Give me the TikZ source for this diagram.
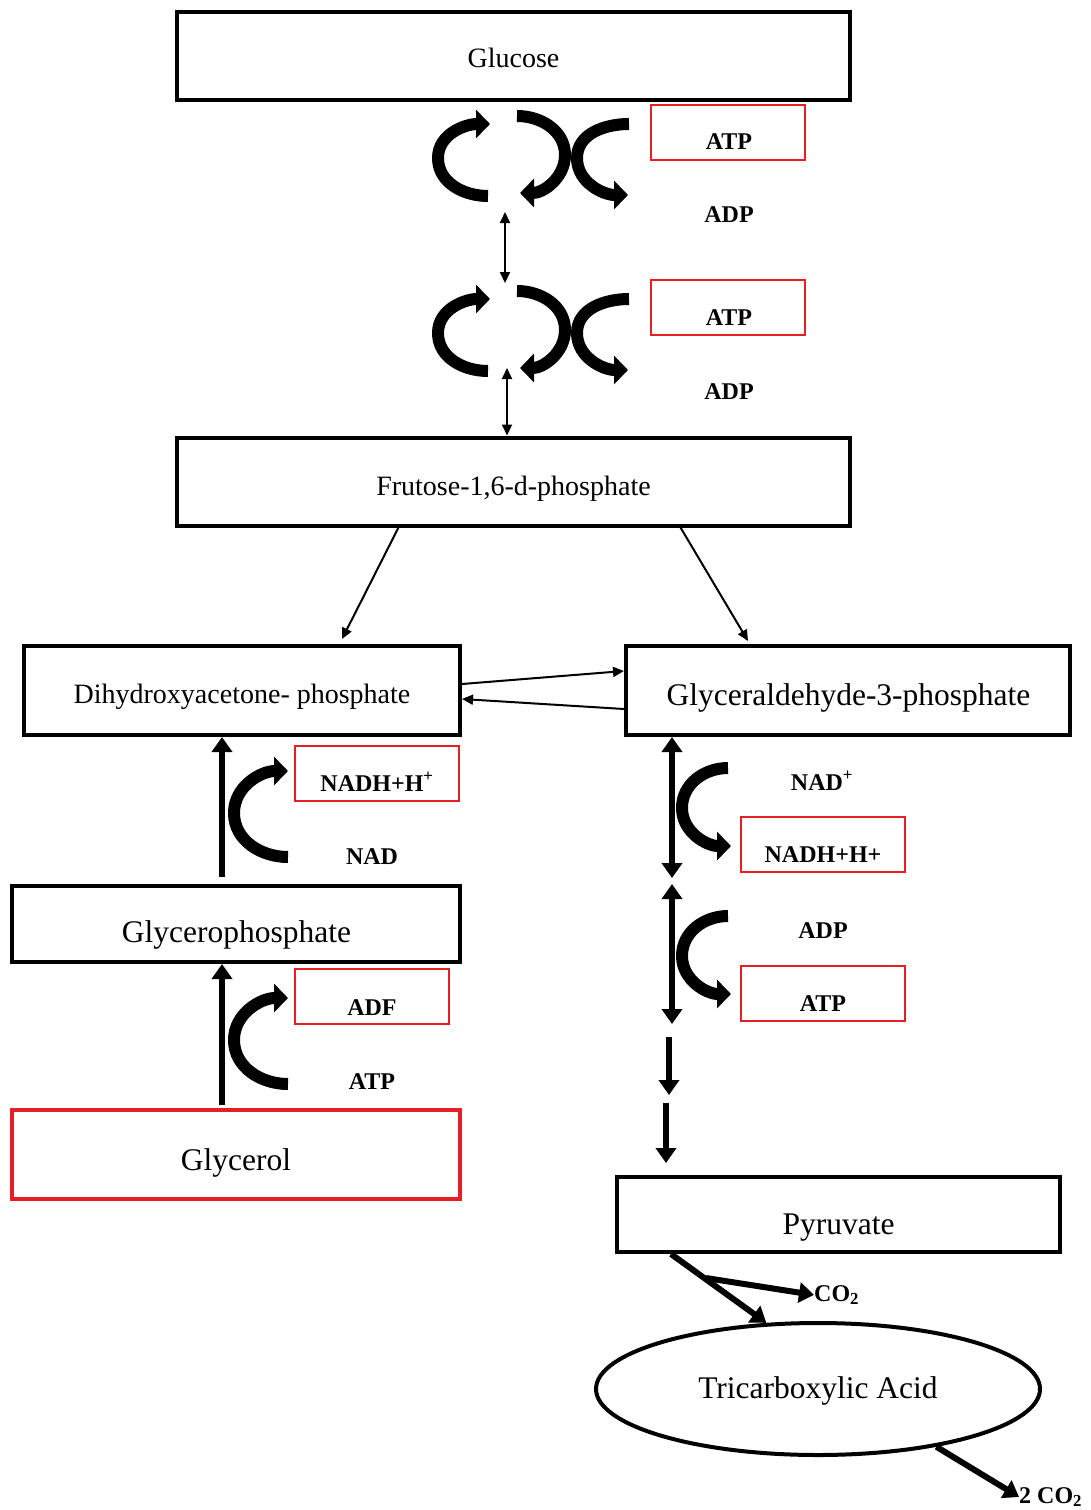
\documentclass[tikz,border=0pt]{standalone}
\usepackage{fontspec}
\setmainfont{Liberation Serif}
\usetikzlibrary{arrows.meta,shapes.geometric}
\definecolor{pRed}{RGB}{232,30,37}
\tikzset{
    box/.style={draw, line width=4pt, inner sep=0pt, minimum width=673pt, minimum height=88pt},
    txt/.style={inner sep=0pt, anchor=base, font=\fontsize{31.5}{34}\selectfont},
    stxt/.style={inner sep=0pt, anchor=base, font=\fontsize{28}{32}\selectfont},
    rbox/.style={draw=pRed, line width=1.3pt, inner sep=0pt, minimum width=154pt, minimum height=55pt},
    lbl/.style={inner sep=0pt, anchor=base, font=\bfseries\fontsize{24}{28}\selectfont},
    thin/.style={line width=2pt, -{Triangle[length=11pt,width=10pt]}},
    dthin/.style={line width=2pt, {Triangle[length=11pt,width=10pt]}-{Triangle[length=11pt,width=10pt]}},
    fat/.style={line width=6pt, -{Triangle[length=15pt,width=20pt]}},
    dfat/.style={line width=6pt, {Triangle[length=15pt,width=20pt]}-{Triangle[length=15pt,width=20pt]}},
    curv/.style={line width=12pt, -{Triangle[length=14pt,width=28pt]}}
}
\begin{document}
\begin{tikzpicture}[x=1pt,y=-1pt]
\useasboundingbox (0,0) rectangle (1091,1510);
% main boxes
\node[box] (glu) at (513.5,56) {};
\node[stxt] (glut) at (513.5,67.5) {Glucose};
\node[box] (fru) at (513.5,481.5) {};
\node[stxt] (frut) at (513.5,495) {Frutose-1,6-d-phosphate};
\node[box, minimum width=436pt, minimum height=89pt] (dhap) at (242,690.5) {};
\node[stxt] (dhapt) at (242,703) {Dihydroxyacetone- phosphate};
\node[box, minimum width=444pt, minimum height=89pt] (g3p) at (848,690.5) {};
\node[txt] (g3pt) at (848.5,705) {Glyceraldehyde-3-phosphate};
\node[box, minimum width=448pt, minimum height=76pt] (gp) at (236,924) {};
\node[txt] (gpt) at (236.5,942) {Glycerophosphate};
\node[box, draw=pRed, minimum width=448pt, minimum height=89pt] (gly) at (236,1154.5) {};
\node[txt] (glyt) at (236,1170) {Glycerol};
\node[box, minimum width=443pt, minimum height=75pt] (pyr) at (838.5,1214.5) {};
\node[txt] (pyrt) at (838.5,1234) {Pyruvate};
\node[ellipse, draw, line width=4pt, inner sep=0pt, minimum width=444pt, minimum height=132pt] (tca) at (818,1389) {};
\node[txt] (tcat) at (818,1398) {Tricarboxylic Acid};
% red boxes and labels
\node[rbox] (atpa) at (728,132.5) {};
\node[lbl] (atpat) at (729,149) {ATP};
\node[lbl] (adpat) at (729,222) {ADP};
\node[rbox] (atpb) at (728,307.5) {};
\node[lbl] (atpbt) at (729,325) {ATP};
\node[lbl] (adpbt) at (729,399) {ADP};
\node[rbox, minimum width=164pt] (nadha) at (377,773.5) {};
\node[lbl] (nadhat) at (377,791) {NADH+H\textsuperscript{+}};
\node[lbl] (nadat) at (372,864) {NAD};
\node[rbox] (adfa) at (372,996.5) {};
\node[lbl] (adfat) at (372,1015) {ADF};
\node[lbl] (atpct) at (372,1089) {ATP};
\node[lbl] (nadbt) at (822,790) {NAD\textsuperscript{+}};
\node[rbox, minimum width=164pt] (nadhb) at (823,844.5) {};
\node[lbl] (nadhbt) at (823,862) {NADH+H+};
\node[lbl] (adpct) at (823,938) {ADP};
\node[rbox, minimum width=164pt] (atpd) at (823,993.5) {};
\node[lbl] (atpdt) at (823,1011) {ATP};
\node[lbl, anchor=base west] (co2a) at (814,1301) {CO\textsubscript{2}};
\node[lbl, anchor=base west] (co2b) at (1019,1503) {2 CO\textsubscript{2}};
% curved arrows, top pair
\foreach \dy in {0,175} {
  \draw[curv] (488,196+\dy) to[out=180,in=-90] (438,158+\dy) to[out=90,in=180] (490,124+\dy);
  \draw[curv] (517,116+\dy) to[out=0,in=90] (565,155+\dy) to[out=-90,in=0] (520,193+\dy);
  \draw[curv] (629,124+\dy) to[out=180,in=90] (577,158+\dy) to[out=-90,in=180] (628,195+\dy);
}
% curved arrows, left side
\foreach \dy in {0,227} {
  \draw[curv] (288,857+\dy) to[out=180,in=-90] (234,813+\dy) to[out=90,in=180] (288,771+\dy);
}
% curved arrows, right side
\foreach \dy in {0,148} {
  \draw[curv] (728,768+\dy) to[out=180,in=90] (682,808+\dy) to[out=-90,in=180] (731,846+\dy);
}
% connectors
\coordinate (c1a) at (505,212);
\coordinate (c1b) at (505,283);
\coordinate (c2a) at (507,368);
\draw[dthin] (c1a) -- (c1b);
\draw[dthin] (c2a) -- (c2a |- fru.north);
\draw[thin] ([xshift=-115pt]fru.south) -- ([xshift=100pt,yshift=5pt]dhap.north);
\draw[thin] ([xshift=167pt]fru.south) -- ([xshift=-100pt,yshift=3pt]g3p.north);
\draw[thin] ([yshift=6.5pt]dhap.east) -- ([yshift=19.5pt]g3p.west);
\draw[thin] ([yshift=-18.5pt]g3p.west) -- ([yshift=-8.5pt]dhap.east);
\coordinate (l1) at (222,877);
\coordinate (l2) at (222,1105);
\draw[fat] (l1) -- (l1 |- dhap.south);
\draw[fat] (l2) -- (l2 |- gp.south);
\coordinate (r1) at (672,878);
\coordinate (r2) at (672,884);
\coordinate (r3) at (672,1024);
\draw[dfat] (r1 |- g3p.south) -- (r1);
\draw[dfat] (r2) -- (r3);
\coordinate (r4) at (669,1037);
\coordinate (r5) at (669,1095);
\coordinate (r6) at (666,1103);
\coordinate (r7) at (666,1163);
\draw[fat] (r4) -- (r5);
\draw[fat] (r6) -- (r7);
\draw[fat] ([xshift=-167.5pt]pyr.south) -- (tca.128);
\coordinate (br) at (706,1278);
\draw[fat] (br) -- (co2a.west);
\draw[fat] (tca.-26) -- (co2b.west);
\end{tikzpicture}
\end{document}
